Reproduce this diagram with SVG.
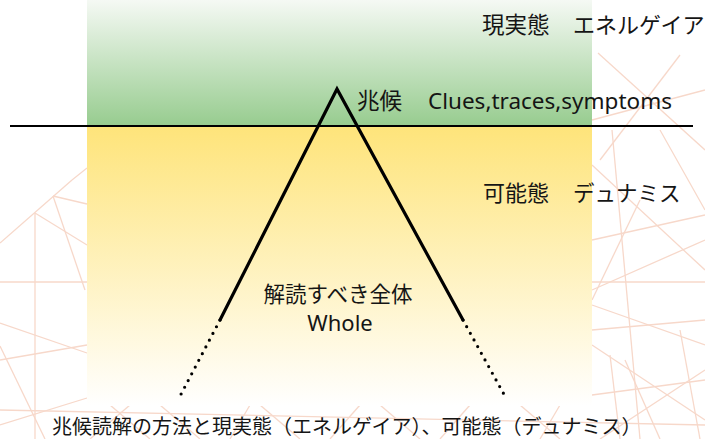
<svg xmlns="http://www.w3.org/2000/svg" width="705" height="439" viewBox="0 0 705 439">
<style>
.t{font-family:"Noto Sans","Noto Sans CJK JP",sans-serif;fill:#151515}
.bg line{stroke:#f7d8ca;stroke-width:1.3}
.tri{stroke:#000;stroke-width:3.2;fill:none;stroke-linecap:round}
.dot{stroke:#000;stroke-width:3.2;fill:none;stroke-linecap:round;stroke-dasharray:0 7.6}
</style>
<defs>
<linearGradient id="g" x1="0" y1="0" x2="0" y2="1">
<stop offset="0" stop-color="#f5f9f4"/>
<stop offset="1" stop-color="#97cc8f"/>
</linearGradient>
<linearGradient id="y" x1="0" y1="0" x2="0" y2="1">
<stop offset="0" stop-color="#fee47a"/>
<stop offset="1" stop-color="#ffffff"/>
</linearGradient>
</defs>
<rect width="705" height="439" fill="#fff"/>
<g id="background" class="bg">
<line x1="0" y1="243" x2="72" y2="180"/>
<line x1="35" y1="213" x2="35" y2="439"/>
<line x1="0" y1="282" x2="87" y2="282"/>
<line x1="35" y1="213" x2="87" y2="245"/>
<line x1="53" y1="196" x2="87" y2="204"/>
<line x1="53" y1="196" x2="85" y2="290"/>
<line x1="0" y1="323" x2="87" y2="353"/>
<line x1="0" y1="360" x2="87" y2="345"/>
<line x1="0" y1="346" x2="45" y2="439"/>
<line x1="0" y1="425" x2="87" y2="398"/>
<line x1="72" y1="180" x2="87" y2="168"/>
<line x1="598" y1="53" x2="705" y2="150"/>
<line x1="680" y1="55" x2="600" y2="160"/>
<line x1="592" y1="120" x2="705" y2="90"/>
<line x1="612" y1="130" x2="640" y2="439"/>
<line x1="592" y1="165" x2="705" y2="270"/>
<line x1="660" y1="130" x2="705" y2="210"/>
<line x1="592" y1="240" x2="705" y2="215"/>
<line x1="592" y1="290" x2="705" y2="240"/>
<line x1="640" y1="200" x2="592" y2="300"/>
<line x1="592" y1="282" x2="705" y2="282"/>
<line x1="592" y1="305" x2="705" y2="345"/>
<line x1="592" y1="330" x2="705" y2="320"/>
<line x1="592" y1="345" x2="705" y2="420"/>
<line x1="610" y1="355" x2="620" y2="439"/>
<line x1="625" y1="360" x2="660" y2="439"/>
<line x1="592" y1="395" x2="705" y2="380"/>
<line x1="600" y1="439" x2="705" y2="370"/>
<line x1="680" y1="330" x2="700" y2="439"/>
<line x1="90" y1="439" x2="130" y2="405"/>
<line x1="110" y1="405" x2="150" y2="439"/>
<line x1="160" y1="405" x2="200" y2="439"/>
<line x1="230" y1="439" x2="250" y2="405"/>
<line x1="260" y1="405" x2="300" y2="439"/>
<line x1="330" y1="439" x2="360" y2="405"/>
<line x1="380" y1="405" x2="420" y2="439"/>
<line x1="440" y1="439" x2="470" y2="405"/>
<line x1="520" y1="405" x2="560" y2="439"/>
<line x1="560" y1="405" x2="540" y2="439"/>
<line x1="0" y1="410" x2="705" y2="425"/>
</g>
<g id="actual-zone">
<rect x="87" y="0" width="505" height="126" fill="url(#g)"/>
</g>
<g id="potential-zone">
<rect x="87" y="126" width="505" height="280" fill="url(#y)"/>
</g>
<g id="connectors">
<line x1="10" y1="126" x2="693" y2="126" stroke="#000" stroke-width="2"/>
<polyline class="tri" points="220,320 337,89 463,320"/>
<line class="dot" x1="220" y1="320" x2="179" y2="398"/>
<line class="dot" x1="463" y1="320" x2="506" y2="398"/>
</g>
<g id="label-actual">
<text class="t" x="482" y="33" font-size="22.5">現実態</text>
<text class="t" x="573" y="33" font-size="22">エネルゲイア</text>
</g>
<g id="label-clues">
<text class="t" x="357" y="109" font-size="22.5">兆候</text>
<text class="t" x="428" y="109" font-size="22.5">Clues,traces,symptoms</text>
</g>
<g id="label-potential">
<text class="t" x="483" y="201" font-size="22">可能態</text>
<text class="t" x="573" y="201" font-size="21.5">デュナミス</text>
</g>
<g id="label-whole">
<text class="t" x="338" y="302" font-size="21.5" text-anchor="middle">解読すべき全体</text>
<text class="t" x="340" y="331" font-size="22" text-anchor="middle">Whole</text>
</g>
<g id="caption">
<text class="t" x="52" y="434" font-size="20">兆候読解の方法と現実態（エネルゲイア）、可能態（デュナミス）</text>
</g>
</svg>
